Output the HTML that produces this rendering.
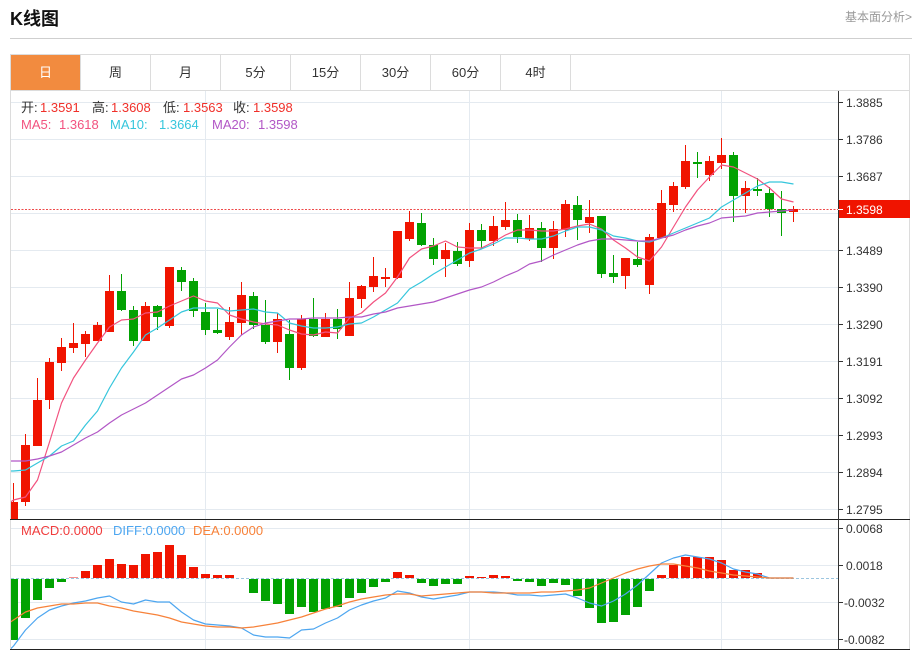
<!DOCTYPE html>
<html><head><meta charset="utf-8"><style>
html,body{margin:0;padding:0;background:#fff;}
body{width:916px;height:650px;overflow:hidden;position:relative;font-family:"Liberation Sans","Noto Sans CJK SC",sans-serif;}
svg{position:absolute;left:0;top:0;}
text{font-family:"Liberation Sans","Noto Sans CJK SC",sans-serif;}
</style></head><body>
<svg width="916" height="650" viewBox="0 0 916 650" xmlns="http://www.w3.org/2000/svg">
<defs>
<clipPath id="cm"><rect x="11" y="91" width="827" height="428"/></clipPath>
<clipPath id="cd"><rect x="11" y="520" width="827" height="129"/></clipPath>
</defs>
<!-- header -->
<text x="10" y="25" font-size="18" font-weight="bold" fill="#111">K线图</text>
<text x="912" y="21" font-size="12" fill="#999" text-anchor="end">基本面分析&gt;</text>
<rect x="10" y="38" width="902" height="1" fill="#cfcfcf"/>
<!-- tabs -->
<rect x="10" y="54" width="900" height="1" fill="#dcdcdc"/>
<rect x="11" y="55" width="69" height="35" fill="#f28b3f"/>
<g fill="#dcdcdc">
<rect x="80" y="55" width="1" height="35"/><rect x="150" y="55" width="1" height="35"/><rect x="220" y="55" width="1" height="35"/><rect x="290" y="55" width="1" height="35"/><rect x="360" y="55" width="1" height="35"/><rect x="430" y="55" width="1" height="35"/><rect x="500" y="55" width="1" height="35"/><rect x="570" y="55" width="1" height="35"/>
<rect x="10" y="90" width="900" height="1"/>
<rect x="10" y="54" width="1" height="596"/>
<rect x="909" y="54" width="1" height="596"/>
</g>
<g font-size="13" fill="#333" text-anchor="middle">
<text x="45.5" y="77" fill="#fff">日</text>
<text x="115.5" y="77">周</text>
<text x="185.5" y="77">月</text>
<text x="255.5" y="77">5分</text>
<text x="325.5" y="77">15分</text>
<text x="395.5" y="77">30分</text>
<text x="465.5" y="77">60分</text>
<text x="535.5" y="77">4时</text>
</g>
<!-- grid -->
<g fill="#e4eaf0">
<rect x="11" y="102" width="827" height="1"/><rect x="11" y="139" width="827" height="1"/><rect x="11" y="176" width="827" height="1"/><rect x="11" y="213" width="827" height="1"/><rect x="11" y="250" width="827" height="1"/><rect x="11" y="287" width="827" height="1"/><rect x="11" y="324" width="827" height="1"/><rect x="11" y="361" width="827" height="1"/><rect x="11" y="398" width="827" height="1"/><rect x="11" y="435" width="827" height="1"/><rect x="11" y="472" width="827" height="1"/><rect x="11" y="509" width="827" height="1"/>
<rect x="11" y="528" width="827" height="1"/><rect x="11" y="565" width="827" height="1"/><rect x="11" y="602" width="827" height="1"/><rect x="11" y="639" width="827" height="1"/>
<rect x="205" y="91" width="1" height="558"/><rect x="469" y="91" width="1" height="558"/><rect x="721" y="91" width="1" height="558"/>
</g>
<!-- legend -->
<g font-size="13">
<text x="21" y="112" fill="#333">开:</text><text x="40" y="112" fill="#f0302a">1.3591</text>
<text x="92" y="112" fill="#333">高:</text><text x="111" y="112" fill="#f0302a">1.3608</text>
<text x="163" y="112" fill="#333">低:</text><text x="183" y="112" fill="#f0302a">1.3563</text>
<text x="233" y="112" fill="#333">收:</text><text x="253" y="112" fill="#f0302a">1.3598</text>
<text x="21" y="129" fill="#f2527f">MA5:</text><text x="59" y="129" fill="#f2527f">1.3618</text>
<text x="110" y="129" fill="#36c6dc">MA10:</text><text x="159" y="129" fill="#36c6dc">1.3664</text>
<text x="212" y="129" fill="#b257c6">MA20:</text><text x="258" y="129" fill="#b257c6">1.3598</text>
</g>
<!-- current price dotted -->
<line x1="11" y1="209.5" x2="838" y2="209.5" stroke="#ee4a4a" stroke-width="1" stroke-dasharray="2,1.5"/>
<!-- candles -->
<g clip-path="url(#cm)">
<g fill="#f01400">
<rect x="9" y="502" width="9" height="17"/><rect x="13" y="483" width="1" height="36"/>
<rect x="21" y="445" width="9" height="57"/><rect x="25" y="434" width="1" height="72"/>
<rect x="33" y="400" width="9" height="46"/><rect x="37" y="378" width="1" height="68"/>
<rect x="45" y="362" width="9" height="38"/><rect x="49" y="358" width="1" height="51"/>
<rect x="57" y="347" width="9" height="16"/><rect x="61" y="338" width="1" height="33"/>
<rect x="69" y="343" width="9" height="5"/><rect x="73" y="323" width="1" height="30"/>
<rect x="81" y="334" width="9" height="10"/><rect x="85" y="331" width="1" height="26"/>
<rect x="93" y="325" width="9" height="16"/><rect x="97" y="322" width="1" height="19"/>
<rect x="105" y="291" width="9" height="41"/><rect x="109" y="275" width="1" height="57"/>
<rect x="141" y="306" width="9" height="35"/><rect x="145" y="302" width="1" height="39"/>
<rect x="165" y="267" width="9" height="59"/><rect x="169" y="267" width="1" height="61"/>
<rect x="225" y="322" width="9" height="15"/><rect x="229" y="307" width="1" height="33"/>
<rect x="237" y="295" width="9" height="28"/><rect x="241" y="282" width="1" height="53"/>
<rect x="273" y="319" width="9" height="23"/><rect x="277" y="313" width="1" height="40"/>
<rect x="297" y="319" width="9" height="49"/><rect x="301" y="315" width="1" height="55"/>
<rect x="321" y="319" width="9" height="18"/><rect x="325" y="313" width="1" height="24"/>
<rect x="345" y="298" width="9" height="38"/><rect x="349" y="282" width="1" height="54"/>
<rect x="357" y="286" width="9" height="13"/><rect x="361" y="285" width="1" height="23"/>
<rect x="369" y="276" width="9" height="11"/><rect x="373" y="257" width="1" height="35"/>
<rect x="381" y="277" width="9" height="2"/><rect x="385" y="268" width="1" height="19"/>
<rect x="393" y="231" width="9" height="47"/><rect x="397" y="231" width="1" height="48"/>
<rect x="405" y="222" width="9" height="17"/><rect x="409" y="211" width="1" height="30"/>
<rect x="441" y="250" width="9" height="9"/><rect x="445" y="243" width="1" height="34"/>
<rect x="465" y="230" width="9" height="31"/><rect x="469" y="223" width="1" height="44"/>
<rect x="489" y="226" width="9" height="15"/><rect x="493" y="216" width="1" height="30"/>
<rect x="501" y="220" width="9" height="7"/><rect x="505" y="202" width="1" height="28"/>
<rect x="525" y="228" width="9" height="11"/><rect x="529" y="215" width="1" height="26"/>
<rect x="549" y="229" width="9" height="19"/><rect x="553" y="221" width="1" height="38"/>
<rect x="561" y="204" width="9" height="26"/><rect x="565" y="200" width="1" height="37"/>
<rect x="585" y="217" width="9" height="6"/><rect x="589" y="200" width="1" height="33"/>
<rect x="621" y="258" width="9" height="18"/><rect x="625" y="258" width="1" height="31"/>
<rect x="645" y="237" width="9" height="48"/><rect x="649" y="234" width="1" height="60"/>
<rect x="657" y="203" width="9" height="35"/><rect x="661" y="190" width="1" height="48"/>
<rect x="669" y="186" width="9" height="19"/><rect x="673" y="182" width="1" height="30"/>
<rect x="681" y="161" width="9" height="26"/><rect x="685" y="145" width="1" height="44"/>
<rect x="705" y="161" width="9" height="14"/><rect x="709" y="156" width="1" height="25"/>
<rect x="717" y="155" width="9" height="8"/><rect x="721" y="138" width="1" height="31"/>
<rect x="741" y="188" width="9" height="8"/><rect x="745" y="181" width="1" height="32"/>
<rect x="789" y="209" width="9" height="3"/><rect x="793" y="206" width="1" height="16"/>
</g>
<g fill="#02a202">
<rect x="117" y="291" width="9" height="19"/><rect x="121" y="274" width="1" height="37"/>
<rect x="129" y="310" width="9" height="31"/><rect x="133" y="306" width="1" height="40"/>
<rect x="153" y="306" width="9" height="11"/><rect x="157" y="305" width="1" height="25"/>
<rect x="177" y="270" width="9" height="12"/><rect x="181" y="267" width="1" height="24"/>
<rect x="189" y="281" width="9" height="30"/><rect x="193" y="278" width="1" height="39"/>
<rect x="201" y="312" width="9" height="18"/><rect x="205" y="303" width="1" height="32"/>
<rect x="213" y="330" width="9" height="3"/><rect x="217" y="309" width="1" height="25"/>
<rect x="249" y="296" width="9" height="29"/><rect x="253" y="292" width="1" height="37"/>
<rect x="261" y="325" width="9" height="17"/><rect x="265" y="300" width="1" height="44"/>
<rect x="285" y="334" width="9" height="34"/><rect x="289" y="320" width="1" height="60"/>
<rect x="309" y="319" width="9" height="17"/><rect x="313" y="298" width="1" height="39"/>
<rect x="333" y="319" width="9" height="10"/><rect x="337" y="309" width="1" height="30"/>
<rect x="417" y="223" width="9" height="22"/><rect x="421" y="213" width="1" height="33"/>
<rect x="429" y="245" width="9" height="14"/><rect x="433" y="238" width="1" height="27"/>
<rect x="453" y="251" width="9" height="13"/><rect x="457" y="242" width="1" height="24"/>
<rect x="477" y="230" width="9" height="11"/><rect x="481" y="224" width="1" height="25"/>
<rect x="513" y="220" width="9" height="17"/><rect x="517" y="214" width="1" height="29"/>
<rect x="537" y="228" width="9" height="20"/><rect x="541" y="222" width="1" height="40"/>
<rect x="573" y="205" width="9" height="15"/><rect x="577" y="196" width="1" height="44"/>
<rect x="597" y="216" width="9" height="58"/><rect x="601" y="216" width="1" height="62"/>
<rect x="609" y="273" width="9" height="4"/><rect x="613" y="255" width="1" height="28"/>
<rect x="633" y="259" width="9" height="6"/><rect x="637" y="242" width="1" height="25"/>
<rect x="693" y="162" width="9" height="2"/><rect x="697" y="152" width="1" height="26"/>
<rect x="729" y="155" width="9" height="41"/><rect x="733" y="152" width="1" height="70"/>
<rect x="753" y="189" width="9" height="2"/><rect x="757" y="178" width="1" height="18"/>
<rect x="765" y="193" width="9" height="16"/><rect x="769" y="187" width="1" height="30"/>
<rect x="777" y="209" width="9" height="4"/><rect x="781" y="191" width="1" height="45"/>
</g>
<!-- MA lines -->
<g fill="none" stroke-width="1.2" stroke-linejoin="round">
<polyline stroke="#f2527f" points="10.5,502 13.5,500 25.5,497 37.5,480 49.5,442 61.5,403 73.5,378 85.5,360 97.5,343 109.5,327 121.5,320 133.5,319 145.5,313 157.5,312 169.5,306 181.5,301 193.5,296 205.5,301 217.5,303 229.5,315 241.5,319 253.5,322 265.5,324 277.5,325 289.5,330 301.5,334 313.5,335 325.5,332 337.5,333 349.5,318 361.5,313 373.5,302 385.5,293 397.5,277 409.5,258 421.5,249 433.5,246 445.5,241 457.5,247 469.5,248 481.5,248 493.5,242 505.5,235 517.5,230 529.5,230 541.5,231 553.5,231 565.5,229 577.5,226 589.5,224 601.5,229 613.5,240 625.5,248 637.5,257 649.5,261 661.5,247 673.5,227 685.5,207 697.5,190 709.5,177 721.5,165 733.5,167 745.5,173 757.5,179 769.5,188 781.5,199 793.5,202"/>
<polyline stroke="#36c6dc" points="10.5,471 13.5,471 25.5,470 37.5,463 49.5,456 61.5,446 73.5,441 85.5,425 97.5,411 109.5,388 121.5,368 133.5,352 145.5,335 157.5,328 169.5,320 181.5,312 193.5,308 205.5,308 217.5,308 229.5,311 241.5,310 253.5,309 265.5,312 277.5,313 289.5,323 301.5,326 313.5,328 325.5,328 337.5,327 349.5,324 361.5,323 373.5,317 385.5,310 397.5,303 409.5,289 421.5,282 433.5,274 445.5,267 457.5,260 469.5,253 481.5,249 493.5,244 505.5,238 517.5,238 529.5,239 541.5,239 553.5,236 565.5,231 577.5,227 589.5,227 601.5,230 613.5,236 625.5,238 637.5,241 649.5,242 661.5,238 673.5,233 685.5,228 697.5,223 709.5,218 721.5,207 733.5,200 745.5,193 757.5,186 769.5,182 781.5,182 793.5,184"/>
<polyline stroke="#b257c6" points="10.5,461 13.5,461 25.5,461 37.5,459 49.5,456 61.5,452 73.5,445 85.5,438 97.5,432 109.5,423 121.5,415 133.5,409 145.5,403 157.5,395 169.5,387 181.5,379 193.5,375 205.5,368 217.5,360 229.5,347 241.5,335 253.5,327 265.5,323 277.5,321 289.5,319 301.5,319 313.5,318 325.5,318 337.5,318 349.5,317 361.5,317 373.5,314 385.5,312 397.5,308 409.5,306 421.5,304 433.5,302 445.5,298 457.5,294 469.5,290 481.5,287 493.5,282 505.5,276 517.5,271 529.5,264 541.5,261 553.5,255 565.5,250 577.5,245 589.5,241 601.5,239 613.5,239 625.5,240 637.5,241 649.5,241 661.5,238 673.5,235 685.5,230 697.5,226 709.5,223 721.5,218 733.5,217 745.5,216 757.5,213 769.5,212 781.5,211 793.5,210"/>
</g>
</g>
<!-- MACD panel -->
<text x="21" y="535" font-size="13" fill="#f03c3c">MACD:0.0000</text>
<text x="113" y="535" font-size="13" fill="#4da6f0">DIFF:0.0000</text>
<text x="193" y="535" font-size="13" fill="#f7823a">DEA:0.0000</text>
<line x1="11" y1="578.5" x2="838" y2="578.5" stroke="#9cc6e0" stroke-width="1" stroke-dasharray="3,2"/>
<g clip-path="url(#cd)">
<g fill="#f01400">
<rect x="69" y="577" width="9" height="1" fill="#f49090"/>
<rect x="81" y="571" width="9" height="7"/><rect x="93" y="565" width="9" height="13"/><rect x="105" y="559" width="9" height="19"/><rect x="117" y="564" width="9" height="14"/><rect x="129" y="565" width="9" height="13"/><rect x="141" y="554" width="9" height="24"/><rect x="153" y="552" width="9" height="26"/><rect x="165" y="545" width="9" height="33"/><rect x="177" y="555" width="9" height="23"/><rect x="189" y="567" width="9" height="11"/><rect x="201" y="574" width="9" height="4"/><rect x="213" y="575" width="9" height="3"/><rect x="225" y="575" width="9" height="3"/>
<rect x="393" y="572" width="9" height="6"/><rect x="405" y="575" width="9" height="3"/>
<rect x="465" y="576" width="9" height="2"/><rect x="477" y="577" width="9" height="1"/><rect x="489" y="575" width="9" height="3"/><rect x="501" y="576" width="9" height="2"/>
<rect x="657" y="575" width="9" height="3"/><rect x="669" y="565" width="9" height="13"/><rect x="681" y="557" width="9" height="21"/><rect x="693" y="557" width="9" height="21"/><rect x="705" y="557" width="9" height="21"/><rect x="717" y="560" width="9" height="18"/><rect x="729" y="570" width="9" height="8"/><rect x="741" y="570" width="9" height="8"/><rect x="753" y="573" width="9" height="5"/>
</g>
<g fill="#02a202">
<rect x="9" y="579" width="9" height="61"/><rect x="21" y="579" width="9" height="39"/><rect x="33" y="579" width="9" height="21"/><rect x="45" y="579" width="9" height="9"/><rect x="57" y="579" width="9" height="3"/>
<rect x="249" y="579" width="9" height="14"/><rect x="261" y="579" width="9" height="22"/><rect x="273" y="579" width="9" height="25"/><rect x="285" y="579" width="9" height="35"/><rect x="297" y="579" width="9" height="28"/><rect x="309" y="579" width="9" height="33"/><rect x="321" y="579" width="9" height="30"/><rect x="333" y="579" width="9" height="28"/><rect x="345" y="579" width="9" height="19"/><rect x="357" y="579" width="9" height="14"/><rect x="369" y="579" width="9" height="8"/><rect x="381" y="579" width="9" height="3"/>
<rect x="417" y="579" width="9" height="4"/><rect x="429" y="579" width="9" height="7"/><rect x="441" y="579" width="9" height="5"/><rect x="453" y="579" width="9" height="5"/>
<rect x="513" y="579" width="9" height="2"/><rect x="525" y="579" width="9" height="3"/><rect x="537" y="579" width="9" height="7"/><rect x="549" y="579" width="9" height="4"/><rect x="561" y="579" width="9" height="6"/><rect x="573" y="579" width="9" height="17"/><rect x="585" y="579" width="9" height="29"/><rect x="597" y="579" width="9" height="44"/><rect x="609" y="579" width="9" height="43"/><rect x="621" y="579" width="9" height="36"/><rect x="633" y="579" width="9" height="28"/><rect x="645" y="579" width="9" height="12"/>
</g>
<g fill="none" stroke-width="1.2" stroke-linejoin="round">
<polyline stroke="#4da6f0" points="10.5,649 13.5,646 25.5,630 37.5,618 49.5,610 61.5,606 73.5,603 85.5,601 97.5,598 109.5,596 121.5,602 133.5,604 145.5,600 157.5,602 169.5,602 181.5,612 193.5,620 205.5,624 217.5,625 229.5,626 241.5,628 253.5,635 265.5,637 277.5,637 289.5,638 301.5,630 313.5,629 325.5,623 337.5,618 349.5,610 361.5,605 373.5,601 385.5,598 397.5,591 409.5,593 421.5,597 433.5,599 445.5,597 457.5,595 469.5,592 481.5,592 493.5,592 505.5,593 517.5,595 529.5,595 541.5,596 553.5,595 565.5,594 577.5,598 589.5,603 601.5,606 613.5,601 625.5,594 637.5,585 649.5,574 661.5,563 673.5,558 685.5,555 697.5,557 709.5,559 721.5,563 733.5,569 745.5,572 757.5,574 769.5,578 781.5,578 793.5,578"/>
<polyline stroke="#f7823a" points="10.5,622 13.5,620 25.5,612 37.5,608 49.5,606 61.5,604 73.5,604 85.5,603 97.5,603 109.5,606 121.5,608 133.5,611 145.5,613 157.5,615 169.5,618 181.5,622 193.5,624 205.5,626 217.5,627 229.5,627 241.5,628 253.5,627 265.5,625 277.5,623 289.5,620 301.5,617 313.5,613 325.5,609 337.5,606 349.5,602 361.5,599 373.5,597 385.5,595 397.5,594 409.5,594 421.5,596 433.5,595 445.5,594 457.5,593 469.5,592 481.5,592 493.5,593 505.5,593 517.5,593 529.5,593 541.5,592 553.5,592 565.5,591 577.5,590 589.5,588 601.5,583 613.5,578 625.5,573 637.5,569 649.5,566 661.5,564 673.5,564 685.5,566 697.5,568 709.5,571 721.5,573 733.5,575 745.5,576 757.5,577 769.5,578 781.5,578 793.5,578"/>
</g>
</g>
<!-- axes -->
<rect x="10" y="519" width="900" height="1" fill="#222"/>
<rect x="10" y="649" width="900" height="1" fill="#222"/>
<rect x="838" y="91" width="1" height="559" fill="#333"/>
<g fill="#333">
<rect x="839" y="102" width="4" height="1"/><rect x="839" y="139" width="4" height="1"/><rect x="839" y="176" width="4" height="1"/><rect x="839" y="250" width="4" height="1"/><rect x="839" y="287" width="4" height="1"/><rect x="839" y="324" width="4" height="1"/><rect x="839" y="361" width="4" height="1"/><rect x="839" y="398" width="4" height="1"/><rect x="839" y="435" width="4" height="1"/><rect x="839" y="472" width="4" height="1"/><rect x="839" y="509" width="4" height="1"/>
<rect x="839" y="528" width="4" height="1"/><rect x="839" y="565" width="4" height="1"/><rect x="839" y="602" width="4" height="1"/><rect x="839" y="639" width="4" height="1"/>
</g>
<g font-size="12" fill="#333">
<text x="846" y="107">1.3885</text>
<text x="846" y="144">1.3786</text>
<text x="846" y="181">1.3687</text>
<text x="846" y="255">1.3489</text>
<text x="846" y="292">1.3390</text>
<text x="846" y="329">1.3290</text>
<text x="846" y="366">1.3191</text>
<text x="846" y="403">1.3092</text>
<text x="846" y="440">1.2993</text>
<text x="846" y="477">1.2894</text>
<text x="846" y="514">1.2795</text>
<text x="846" y="533">0.0068</text>
<text x="846" y="570">0.0018</text>
<text x="844" y="607">-0.0032</text>
<text x="844" y="644">-0.0082</text>
</g>
<rect x="839" y="200" width="71" height="18" fill="#f01400"/>
<rect x="838" y="209" width="5" height="1" fill="#fff"/>
<text x="846" y="214" font-size="12" fill="#fff">1.3598</text>
</svg>
</body></html>
